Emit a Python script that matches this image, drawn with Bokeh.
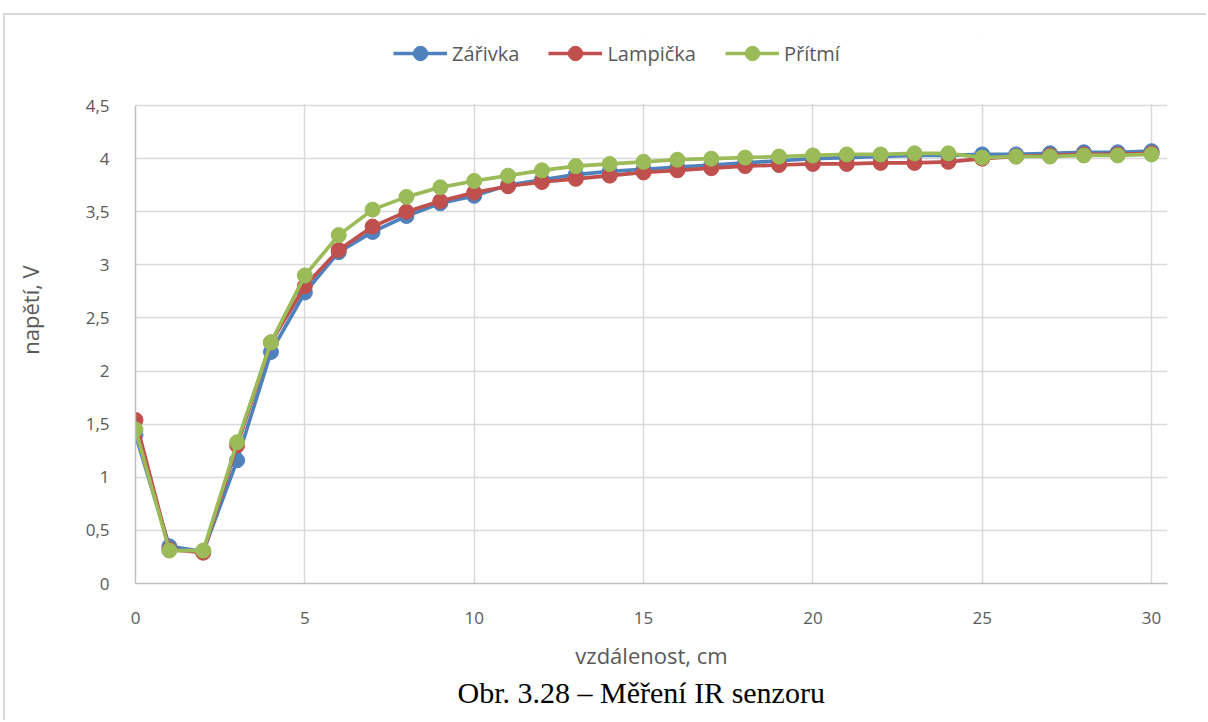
from bokeh.plotting import figure
from bokeh.models import Range1d, FixedTicker, Legend, LegendItem, Title, BoxAnnotation
from bokeh.embed import file_html
from bokeh.resources import INLINE

distance = list(range(0, 31))
zarivka = [1.40, 0.35, 0.30, 1.16, 2.18, 2.74, 3.12, 3.31, 3.46, 3.58, 3.65,
           3.75, 3.80, 3.85, 3.88, 3.90, 3.92, 3.94, 3.96, 3.98, 4.00,
           4.01, 4.02, 4.03, 4.03, 4.04, 4.04, 4.05, 4.06, 4.06, 4.07]
lampicka = [1.54, 0.32, 0.29, 1.30, 2.27, 2.80, 3.14, 3.36, 3.50, 3.60, 3.68,
            3.74, 3.78, 3.81, 3.84, 3.87, 3.89, 3.91, 3.93, 3.94, 3.95,
            3.95, 3.96, 3.96, 3.97, 4.00, 4.02, 4.03, 4.04, 4.04, 4.05]
pritmi = [1.45, 0.31, 0.31, 1.33, 2.27, 2.90, 3.28, 3.52, 3.64, 3.73, 3.79,
          3.84, 3.89, 3.93, 3.95, 3.97, 3.99, 4.00, 4.01, 4.02, 4.03,
          4.04, 4.04, 4.05, 4.05, 4.01, 4.02, 4.02, 4.03, 4.03, 4.04]

series_names = ["Zářivka", "Lampička", "Přítmí"]
series_colors = ["#4F81BD", "#C0504D", "#9BBB59"]

x_ticks = [0, 5, 10, 15, 20, 25, 30]
y_ticks = [0, 0.5, 1, 1.5, 2, 2.5, 3, 3.5, 4, 4.5]
y_tick_labels = ["0", "0,5", "1", "1,5", "2", "2,5", "3", "3,5", "4", "4,5"]
y_max = 4.5

FONT = "Open Sans"
TXT = "#595959"

p = figure(width=1203, height=707, output_backend="svg", toolbar_location=None,
           x_range=Range1d(0, 30.47), y_range=Range1d(0, 5.15),
           min_border_left=130, min_border_right=41, min_border_top=21,
           min_border_bottom=139)
p.styles = {"margin-left": "3px", "margin-top": "13px",
            "border-left": "2px solid #D9D9D9", "border-top": "2px solid #D9D9D9"}
p.outline_line_color = None
p.background_fill_color = "white"
p.border_fill_color = "white"

p.xaxis.ticker = FixedTicker(ticks=x_ticks)
p.yaxis.ticker = FixedTicker(ticks=y_ticks)
p.yaxis.major_label_overrides = dict(zip(y_ticks, y_tick_labels))
p.yaxis.bounds = (0, y_max)

for ax in (p.xaxis, p.yaxis):
    ax.axis_line_color = "#BFBFBF"
    ax.axis_line_width = 1.5
    ax.major_tick_line_color = None
    ax.minor_tick_line_color = None
    ax.major_label_text_font = FONT
    ax.major_label_text_font_size = "17px"
    ax.major_label_text_color = TXT
    ax.axis_label_text_font = FONT
    ax.axis_label_text_font_size = "22px"
    ax.axis_label_text_color = TXT
    ax.axis_label_text_font_style = "normal"

p.xaxis.axis_label = "vzdálenost, cm"
p.yaxis.axis_label = "napětí, V"
p.xaxis.major_label_standoff = 22
p.yaxis.major_label_standoff = 20
p.xaxis.axis_label_standoff = 13
p.yaxis.axis_label_standoff = 38

p.xgrid.grid_line_color = "#D9D9D9"
p.ygrid.grid_line_color = "#D9D9D9"
p.xgrid.grid_line_width = 1.5
p.ygrid.grid_line_width = 1.5

items = []
for name, color, ys in zip(series_names, series_colors, [zarivka, lampicka, pritmi]):
    r1 = p.line(distance, ys, line_color=color, line_width=3.7)
    r2 = p.scatter(distance, ys, size=15, fill_color=color, line_color=color)
    items.append(LegendItem(label=name, renderers=[r1, r2]))

# white cover above the top of the value axis (hides the grid there)
cover = BoxAnnotation(bottom=y_max + 0.015, fill_color="white", fill_alpha=1.0,
                      line_color=None)
p.add_layout(cover)

legend = Legend(items=items, orientation="horizontal", location=(258, 512),
                glyph_width=54, glyph_height=36, label_standoff=5, spacing=29,
                label_text_font=FONT, label_text_font_size="20px",
                label_text_color=TXT, border_line_color=None,
                background_fill_alpha=0, padding=0, margin=0)
p.add_layout(legend, "center")

caption = Title(text="Obr. 3.28 – Měření IR senzoru", align="left", offset=322,
                text_font="Liberation Serif", text_font_size="30px",
                text_font_style="normal", text_color="black", standoff=2)
p.add_layout(caption, "below")

open("out.html", "w").write(file_html(p, INLINE))
